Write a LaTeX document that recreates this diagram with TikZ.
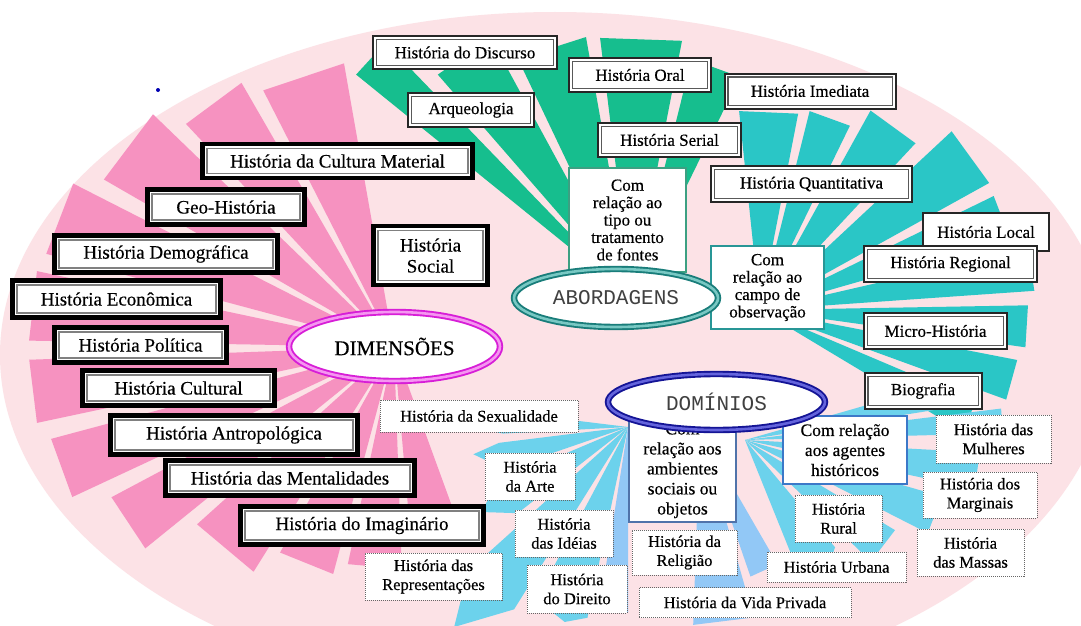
\documentclass[tikz,border=0pt]{standalone}
\usepackage{fontspec}
\setmainfont{Liberation Serif}[FakeBold=0.4]
\newfontfamily\monofnt{Liberation Mono}
\usetikzlibrary{shapes.geometric}
\definecolor{bgpink}{RGB}{252,226,230}
\definecolor{hotpink}{RGB}{246,146,192}
\definecolor{rgreen}{RGB}{22,190,142}
\definecolor{rteal}{RGB}{42,198,198}
\definecolor{rcyan}{RGB}{108,210,236}
\definecolor{rperi}{RGB}{146,200,246}
\definecolor{tipoc}{RGB}{60,160,130}
\definecolor{campoc}{RGB}{40,150,150}
\definecolor{ambc}{RGB}{80,115,170}
\definecolor{agec}{RGB}{60,120,200}
\definecolor{dimc}{RGB}{215,30,215}
\definecolor{dimi}{RGB}{245,150,240}
\definecolor{aboc}{RGB}{25,125,122}
\definecolor{aboi}{RGB}{120,200,195}
\definecolor{domc}{RGB}{20,20,150}
\definecolor{domi}{RGB}{100,100,220}
\newcommand{\fanray}[6]{\fill[#1,shift={(#2,#3)}] (0,0) -- ({-(#4)}:#6) -- ({-(#5)}:#6) -- cycle;}
\newcommand{\kiteray}[8]{\fill[#1,shift={(#2,#3)}] (0,0) -- ({-(#4)}:#6) -- ({-(#7)}:#8) -- ({-(#5)}:#6) -- cycle;}
\tikzset{
  pbox/.style={draw=black, line width=4.5pt, fill=white, inner sep=0pt, align=center,
    font=\fontsize{19}{21}\selectfont,
    path picture={\draw[black!50, line width=1.6pt]
      ([shift={(4.6pt,-4.6pt)}]path picture bounding box.north west) rectangle
      ([shift={(-4.6pt,4.6pt)}]path picture bounding box.south east);}},
  gbox/.style={draw=black!85, line width=2pt, fill=white, inner sep=0pt, align=center,
    font=\fontsize{17}{19}\selectfont,
    path picture={\draw[black!65, line width=1.2pt]
      ([shift={(3.4pt,-3.4pt)}]path picture bounding box.north west) rectangle
      ([shift={(-3.4pt,3.4pt)}]path picture bounding box.south east);}},
  lbox/.style={draw=black!85, line width=1.2pt, fill=white, inner sep=0pt, align=center,
    font=\fontsize{17}{19}\selectfont},
  dbox/.style={draw=black!60, line width=1pt, dash pattern=on 1pt off 1pt, fill=white,
    inner sep=0pt, align=center, font=\fontsize{16.5}{19}\selectfont},
  cbox/.style={fill=white, line width=1.6pt, inner sep=0pt, align=center,
    font=\fontsize{17}{17.4}\selectfont},
  cboxb/.style={fill=white, line width=1.6pt, inner sep=0pt, align=center,
    font=\fontsize{17.5}{20}\selectfont},
  hub/.style={ellipse, fill=white, inner sep=0pt, line width=1.9pt, double distance=2.6pt}
}
\begin{document}
\begin{tikzpicture}[x=1pt,y=-1pt]
\useasboundingbox (0,0) rectangle (1081,626);
\fill[white] (0,0) rectangle (1081,626);
\fill[bgpink] (555,355) ellipse [x radius=555pt, y radius=343pt];
\node[circle, fill=blue!70!black, inner sep=0pt, minimum size=4pt] (dot) at (158,90) {};
% pink fan
\fanray{hotpink}{394}{347}{100}{117}{288}
\fanray{hotpink}{394}{347}{120}{133}{305}
\fanray{hotpink}{394}{347}{136}{150}{335}
\fanray{hotpink}{394}{347}{153}{165}{360}
\fanray{hotpink}{394}{347}{168}{179}{365}
\fanray{hotpink}{394}{347}{182}{192}{365}
\fanray{hotpink}{394}{347}{195}{205}{355}
\fanray{hotpink}{394}{347}{208}{219}{320}
\fanray{hotpink}{394}{347}{222}{238}{265}
\fanray{hotpink}{394}{347}{241}{255}{235}
\fanray{hotpink}{394}{347}{258}{272}{222}
\fanray{hotpink}{394}{347}{275}{290}{168}
% green fan
\fanray{rgreen}{632}{298}{134}{141}{355}
\fanray{rgreen}{632}{298}{118.5}{131}{296}
\fanray{rgreen}{632}{298}{100}{115.5}{265}
\fanray{rgreen}{632}{298}{79}{97}{262}
\fanray{rgreen}{632}{298}{64}{76}{246}
% teal fan
\fanray{rteal}{760}{310}{79}{96}{200}
\fanray{rteal}{760}{310}{64}{76}{205}
\fanray{rteal}{760}{310}{47}{61}{228}
\fanray{rteal}{760}{310}{29}{43}{262}
\fanray{rteal}{760}{310}{16}{26}{260}
\fanray{rteal}{760}{310}{4}{13}{275}
\fanray{rteal}{760}{310}{-8}{1}{268}
\fanray{rteal}{760}{310}{-20}{-11}{262}
\fanray{rteal}{760}{310}{-31}{-23}{235}
% blue fan
\kiteray{rcyan}{628}{427}{173}{183}{125}{180}{158}
\kiteray{rcyan}{628}{427}{187}{199}{130}{190}{157}
\kiteray{rcyan}{628}{427}{203}{218}{140}{210}{170}
\kiteray{rcyan}{628}{427}{222}{238}{215}{229}{265}
\kiteray{rcyan}{628}{427}{242}{258}{195}{252}{205}
\fanray{rperi}{628}{427}{261}{270}{185}
\fanray{rperi}{700}{430}{268}{286}{195}
\fanray{rperi}{700}{430}{289}{300}{155}
\fanray{rcyan}{745}{440}{9}{16}{205}
\fanray{rcyan}{745}{440}{1.5}{7}{258}
\fanray{rcyan}{745}{440}{-12}{-3}{235}
\fanray{rcyan}{745}{440}{-27}{-16}{205}
\fanray{rcyan}{745}{440}{-44}{-31}{175}
\kiteray{rcyan}{745}{440}{-68}{-50}{140}{-60}{160}
% pink boxes
\node[pbox, minimum width=270pt, minimum height=34pt] (cultmat) at (337.5,161) {História da Cultura Material};
\node[pbox, minimum width=157pt, minimum height=35pt] (geo) at (226,207) {Geo-História};
\node[pbox, minimum width=223pt, minimum height=37pt] (demo) at (166,254) {História Demográfica};
\node[pbox, minimum width=208pt, minimum height=37pt] (econ) at (116.5,299) {História Econômica};
\node[pbox, minimum width=172pt, minimum height=35pt] (polit) at (140.5,345) {História Política};
\node[pbox, minimum width=192pt, minimum height=35pt] (cultural) at (178.5,388) {História Cultural};
\node[pbox, minimum width=247pt, minimum height=39pt] (antrop) at (234,435) {História Antropológica};
\node[pbox, minimum width=249pt, minimum height=35pt] (mental) at (290,478) {História das Mentalidades};
\node[pbox, minimum width=243pt, minimum height=38pt] (imag) at (362,525.5) {História do Imaginário};
\node[pbox, minimum width=114pt, minimum height=59pt] (social) at (430.5,255.5) {História\\Social};
% green / teal boxes
\node[gbox, minimum width=184pt, minimum height=33pt] (discurso) at (465,52.5) {História do Discurso};
\node[gbox, minimum width=126pt, minimum height=34pt] (arqueo) at (471,110) {Arqueologia};
\node[gbox, minimum width=142pt, minimum height=34pt] (oral) at (640,75) {História Oral};
\node[gbox, minimum width=171pt, minimum height=35pt] (imediata) at (810,91) {História Imediata};
\node[gbox, minimum width=143pt, minimum height=34pt] (serial) at (669.5,140) {História Serial};
\node[gbox, minimum width=201pt, minimum height=36pt] (quant) at (811.5,184) {História Quantitativa};
\node[lbox, minimum width=126pt, minimum height=38pt] (local) at (986,232) {História Local};
\node[gbox, minimum width=173pt, minimum height=36pt] (regional) at (950.5,264) {História Regional};
\node[gbox, minimum width=143pt, minimum height=36pt] (micro) at (935.5,331) {Micro-História};
\node[gbox, minimum width=117pt, minimum height=36pt] (biografia) at (923,391) {Biografia};
% com relacao boxes
\node[cbox, draw=tipoc, minimum width=117pt, minimum height=104pt] (tipo) at (627.5,220) {Com\\relação ao\\tipo ou\\tratamento\\de fontes};
\node[cbox, draw=campoc, minimum width=113pt, minimum height=83pt] (campo) at (767.5,287.5) {Com\\relação ao\\campo de\\observação};
\node[cboxb, draw=ambc, minimum width=107pt, minimum height=103pt] (amb) at (682.5,470.5) {Com\\relação aos\\ambientes\\sociais ou\\objetos};
\node[cboxb, draw=agec, minimum width=124pt, minimum height=68pt] (agentes) at (845,450) {Com relação\\aos agentes\\históricos};
% dotted boxes
\node[dbox, minimum width=198pt, minimum height=32pt] (sexual) at (479,416) {História da Sexualidade};
\node[dbox, minimum width=90pt, minimum height=47pt] (arte) at (530,476.5) {História\\da Arte};
\node[dbox, minimum width=98pt, minimum height=47pt] (ideias) at (564,533.5) {História\\das Idéias};
\node[dbox, minimum width=100pt, minimum height=48pt] (direito) at (577,589) {História\\do Direito};
\node[dbox, minimum width=137pt, minimum height=47pt] (repres) at (433.5,576.5) {História das\\Representações};
\node[dbox, minimum width=105pt, minimum height=45pt] (religiao) at (684.5,552.5) {História da\\Religião};
\node[dbox, minimum width=212pt, minimum height=30pt] (vida) at (745,602.5) {História da Vida Privada};
\node[dbox, minimum width=139pt, minimum height=30pt] (urbana) at (836.5,567) {História Urbana};
\node[dbox, minimum width=87pt, minimum height=47pt] (rural) at (838.5,518.5) {História\\Rural};
\node[dbox, minimum width=115pt, minimum height=48pt] (mulheres) at (993.5,439) {História das\\Mulheres};
\node[dbox, minimum width=114pt, minimum height=46pt] (marginais) at (980,495) {História dos\\Marginais};
\node[dbox, minimum width=107pt, minimum height=47pt] (massas) at (970.5,552.5) {História\\das Massas};
% hubs
\node[hub, draw=dimc, double=dimi, minimum width=211pt, minimum height=69pt, font=\fontsize{21}{24}\selectfont] (dim) at (394.5,346.5) {DIMENSÕES};
\node[hub, draw=aboc, double=aboi, minimum width=204pt, minimum height=58pt, font=\monofnt\fontsize{21}{24}\selectfont, text=black!75] (abo) at (616,298) {ABORDAGENS};
\node[hub, draw=domc, double=domi, minimum width=217pt, minimum height=56pt, font=\monofnt\fontsize{21}{24}\selectfont, text=black!75] (dom) at (716.5,402) {DOMÍNIOS};
\end{tikzpicture}
\end{document}
